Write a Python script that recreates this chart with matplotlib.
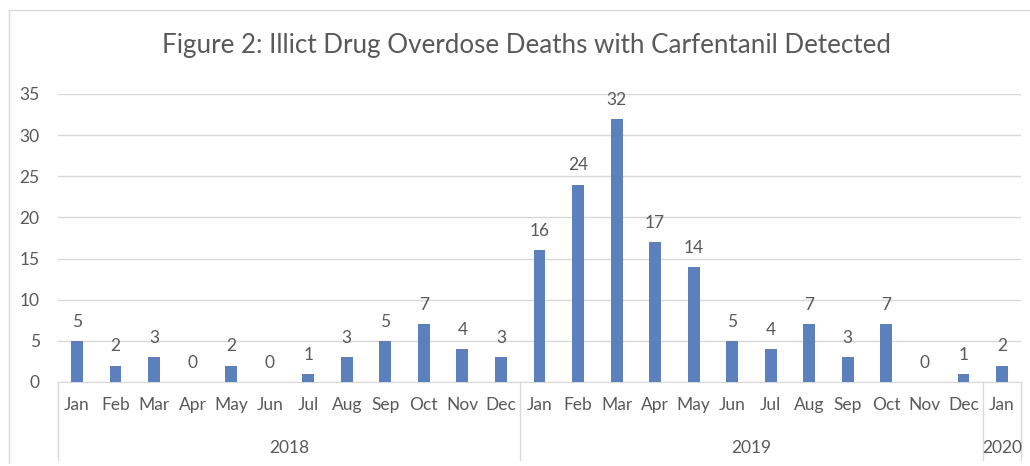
import matplotlib
matplotlib.use("Agg")
import matplotlib.pyplot as plt
from matplotlib.lines import Line2D
from matplotlib.transforms import blended_transform_factory

# monthly counts, Jan 2018 .. Jan 2020
months = ["Jan", "Feb", "Mar", "Apr", "May", "Jun", "Jul", "Aug", "Sep", "Oct", "Nov", "Dec",
          "Jan", "Feb", "Mar", "Apr", "May", "Jun", "Jul", "Aug", "Sep", "Oct", "Nov", "Dec",
          "Jan"]
deaths = [5, 2, 3, 0, 2, 0, 1, 3, 5, 7, 4, 3,
          16, 24, 32, 17, 14, 5, 4, 7, 3, 7, 0, 1,
          2]
years = ["2018", "2019", "2020"]
year_counts = [12, 12, 1]

BAR = "#5B80BC"
TXT = "#595959"
GRID = "#D9D9D9"
FS = 12.5

plt.rcParams["font.family"] = ["Lato", "DejaVu Sans"]

W, H = 1030, 466
fig = plt.figure(figsize=(W / 100, H / 100), dpi=100)
ax = fig.add_axes([57.7 / W, 1 - 382 / H, (1021.3 - 57.7) / W, (382 - 94) / H])

x = list(range(len(deaths)))
ax.bar(x, deaths, width=0.31, color=BAR, zorder=3)
for xi, v in zip(x, deaths):
    ax.annotate(str(v), (xi, v), xytext=(0, 8), textcoords="offset points",
                ha="center", va="bottom", fontsize=FS, color=TXT)

ax.set_xlim(-0.5, len(deaths) - 0.5)
ax.set_ylim(0, 35)
ax.set_yticks(range(0, 36, 5))
ax.yaxis.grid(True, color=GRID, lw=1)
ax.set_axisbelow(True)
for s in ["top", "right", "left"]:
    ax.spines[s].set_visible(False)
ax.spines["bottom"].set_color(GRID)
ax.tick_params(axis="y", length=0, pad=13, labelsize=FS, labelcolor=TXT)
ax.set_xticks(x)
ax.set_xticklabels(months)
ax.tick_params(axis="x", length=0, pad=11, labelsize=FS, labelcolor=TXT)

# year groups underneath the month labels
tr = blended_transform_factory(ax.transData, ax.transAxes)
edges = [-0.5]
for n in year_counts:
    edges.append(edges[-1] + n)
for e in edges:
    ax.add_line(Line2D([e, e], [0, -78 / 288], transform=tr, color=GRID, lw=1, clip_on=False))
for y, a, b in zip(years, edges[:-1], edges[1:]):
    ax.text((a + b) / 2, -66 / 288, y, transform=tr, ha="center", va="center",
            fontsize=FS, color=TXT)

fig.text(527 / W, 1 - 46 / H, "Figure 2: Illict Drug Overdose Deaths with Carfentanil Detected",
         ha="center", va="center", fontsize=18.7, color=TXT)

# chart frame
fig.add_artist(Line2D([9 / W, 1.0], [1 - 10 / H] * 2, transform=fig.transFigure, color=GRID, lw=1))
fig.add_artist(Line2D([9 / W] * 2, [1 - 10 / H, 1 - 463 / H], transform=fig.transFigure, color=GRID, lw=1))

fig.savefig("out.png", dpi=100)
